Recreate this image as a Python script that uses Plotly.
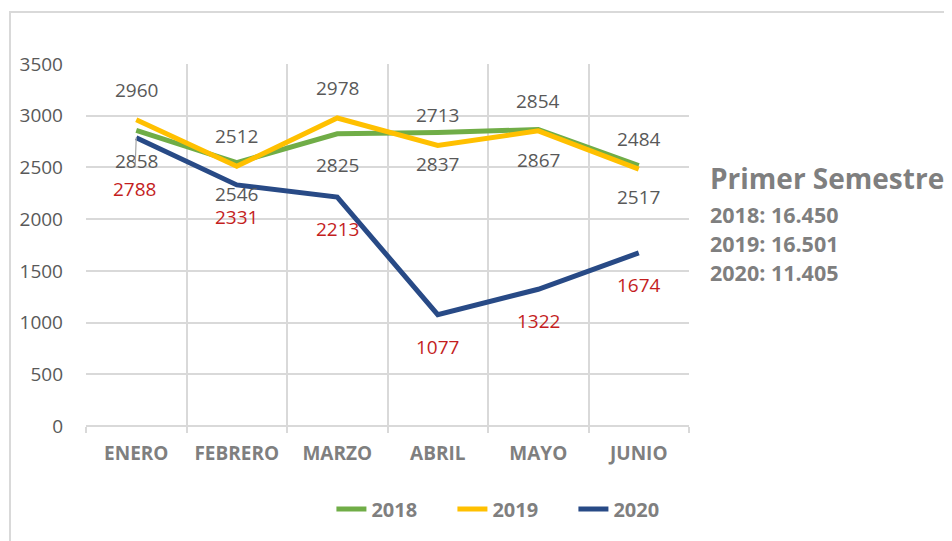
import plotly.graph_objects as go

meses = ["ENERO", "FEBRERO", "MARZO", "ABRIL", "MAYO", "JUNIO"]
v2018 = [2858, 2546, 2825, 2837, 2867, 2517]
v2019 = [2960, 2512, 2978, 2713, 2854, 2484]
v2020 = [2788, 2331, 2213, 1077, 1322, 1674]
y_ticks = [0, 500, 1000, 1500, 2000, 2500, 3000, 3500]

series = [("2018", v2018, "#70AD47"), ("2019", v2019, "#FFC000"), ("2020", v2020, "#284A86")]

FONT = "Open Sans"
GRAY = "#595959"
LGRAY = "#7F7F7F"
RED = "#C41E1E"

fig = go.Figure()
for name, vals, col in series:
    fig.add_trace(go.Scatter(x=meses, y=vals, name=name, mode="lines",
                             line=dict(color=col, width=5), hoverinfo="skip"))

ann = []
for m, v in zip(meses, v2019):
    ann.append(dict(x=m, y=v, text=str(v), showarrow=False, yshift=30,
                    xanchor="center", yanchor="middle",
                    font=dict(family=FONT, size=19, color=GRAY)))
for m, v in zip(meses, v2018):
    ann.append(dict(x=m, y=v, text=str(v), showarrow=False, yshift=-31,
                    xanchor="center", yanchor="middle",
                    font=dict(family=FONT, size=19, color=GRAY)))
for i, (m, v) in enumerate(zip(meses, v2020)):
    if i == 0:
        ann.append(dict(x=m, y=v, text=str(v), showarrow=True, arrowhead=0,
                        arrowwidth=1.2, arrowcolor="#A6A6A6", ax=-2, ay=51,
                        startstandoff=8,
                        font=dict(family=FONT, size=19, color=RED)))
    else:
        ann.append(dict(x=m, y=v, text=str(v), showarrow=False, yshift=-32,
                        xanchor="center", yanchor="middle",
                        font=dict(family=FONT, size=19, color=RED)))

def fmt(n):
    return f"{n:,}".replace(",", ".")

side_y = [0.5856, 0.5028, 0.4227]
ann.append(dict(xref="paper", yref="paper", x=1.031, y=0.685, text="<b>Primer Semestre</b>",
                showarrow=False, xanchor="left", yanchor="middle",
                font=dict(family=FONT, size=28, color=LGRAY)))
for (name, vals, _), yy in zip(series, side_y):
    ann.append(dict(xref="paper", yref="paper", x=1.031, y=yy,
                    text=f"<b>{name}: {fmt(sum(vals))}</b>",
                    showarrow=False, xanchor="left", yanchor="middle",
                    font=dict(family=FONT, size=21.5, color=LGRAY)))

fig.update_layout(
    width=944, height=533,
    margin=dict(l=78, r=263, t=56, b=115),
    paper_bgcolor="white", plot_bgcolor="white",
    annotations=ann,
    showlegend=True,
    legend=dict(orientation="h", x=0.708, xanchor="center", y=-0.229, yanchor="middle",
                font=dict(family=FONT, size=20, color=LGRAY, weight="bold"),
                entrywidth=76, itemclick=False),
    shapes=[dict(type="rect", xref="paper", yref="paper", x0=-0.126, y0=-0.5,
                 x1=1.6, y1=1.1436, line=dict(color="#D9D9D9", width=2), layer="below")],
)
fig.update_xaxes(type="category", tickson="boundaries", showgrid=True, gridcolor="#D9D9D9",
                 gridwidth=1.5, ticks="outside", ticklen=6, tickcolor="#D9D9D9", tickwidth=1.5,
                 showline=False, range=[-0.5, 5.5],
                 tickfont=dict(family=FONT, size=19, color=LGRAY, weight="bold"),
                 ticklabelstandoff=14)
fig.update_yaxes(range=[0, 3500], tickvals=y_ticks, showgrid=True, gridcolor="#D9D9D9",
                 gridwidth=1.5, zeroline=True, zerolinecolor="#D9D9D9", zerolinewidth=1.5,
                 ticks="", tickfont=dict(family=FONT, size=19, color=GRAY),
                 ticklabelstandoff=22)

fig.write_html("out.html")
